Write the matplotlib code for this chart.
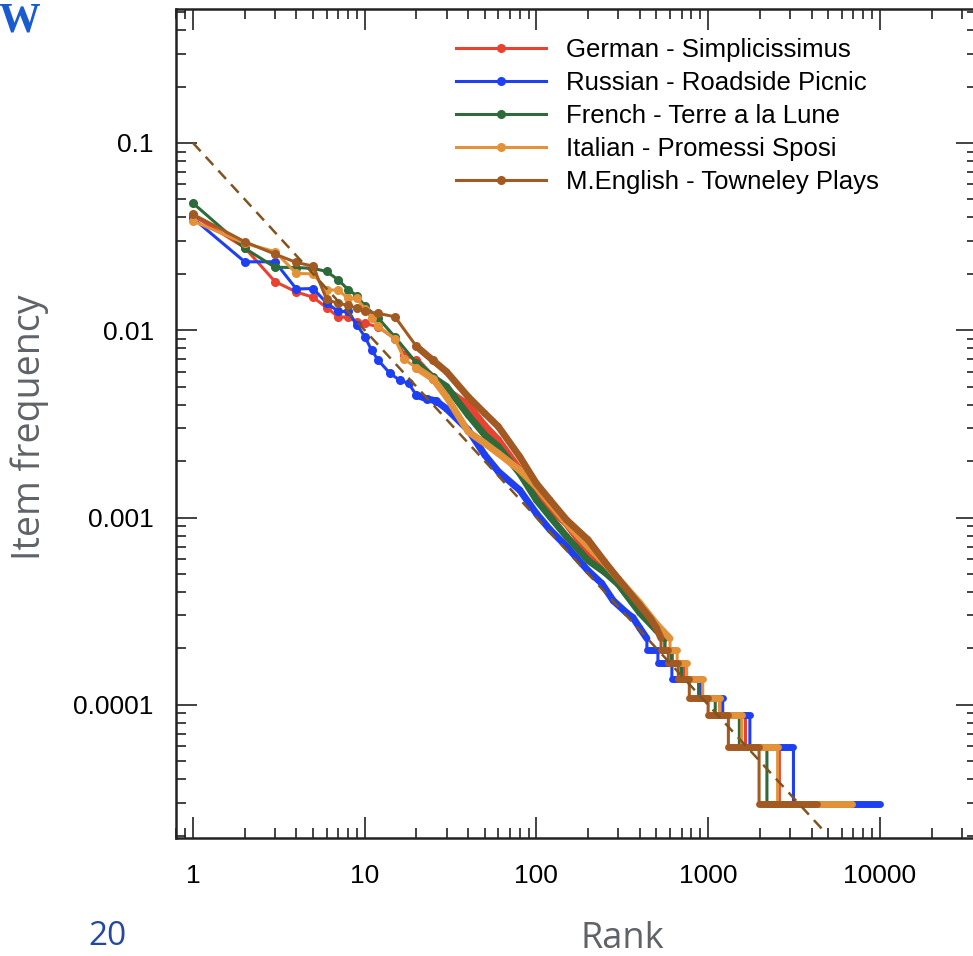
import numpy as np
import matplotlib
matplotlib.use("Agg")
import matplotlib.pyplot as plt
from matplotlib.collections import LineCollection

# rank / item-frequency values (tail = step corners)
german_rank = [1, 2, 3, 4, 5, 6, 7, 8, 9, 10, 12, 15, 17, 20, 25, 30, 40, 50, 60, 80, 100,
               120, 150, 200, 250, 300, 400, 500, 560, 560, 620, 620, 720, 720, 890, 890, 1170,
               1170, 1650, 1650, 2600, 2600, 5200]
german_freq = [0.041, 0.0276, 0.0182, 0.0160, 0.0150, 0.0132, 0.0118, 0.0117, 0.0111, 0.0109,
               0.0104, 0.0090, 0.0074, 0.0069, 0.0055, 0.0048, 0.0040, 0.0031, 0.0026, 0.0018,
               0.0013, 0.00112, 0.00092, 0.00065, 0.00055, 0.00046, 0.00033, 0.00026, 2.26e-4,
               1.97e-4, 1.97e-4, 1.68e-4, 1.68e-4, 1.37e-4, 1.37e-4, 1.09e-4, 1.09e-4, 8.85e-5,
               8.85e-5, 5.93e-5, 5.93e-5, 2.95e-5, 2.95e-5]

russian_rank = [1, 2, 3, 4, 5, 6, 7, 8, 9, 10, 11, 12, 14, 16, 18, 20, 23, 26, 30, 40, 50, 60,
                80, 100, 120, 150, 200, 240, 280, 335, 365, 400, 440, 440, 510, 510, 615, 615,
                910, 910, 1216, 1216, 1750, 1750, 3140, 3140, 10000]
russian_freq = [0.0396, 0.0232, 0.0232, 0.0166, 0.0167, 0.0140, 0.0126, 0.0126, 0.0107, 0.00925,
                0.0078, 0.0069, 0.0059, 0.0054, 0.0052, 0.0045, 0.0043, 0.0042, 0.0038, 0.00294,
                0.00216, 0.00176, 0.0014, 0.00105, 0.00086, 0.0007, 0.00052, 4.45e-4, 3.6e-4,
                3.1e-4, 2.92e-4, 2.57e-4, 2.26e-4, 1.97e-4, 1.97e-4, 1.68e-4, 1.68e-4, 1.37e-4,
                1.37e-4, 1.09e-4, 1.09e-4, 8.85e-5, 8.85e-5, 5.93e-5, 5.93e-5, 2.95e-5, 2.95e-5]

french_rank = [1, 2, 3, 4, 5, 6, 7, 8, 9, 10, 12, 15, 20, 25, 30, 40, 50, 60, 80, 100, 120, 150,
               200, 250, 300, 400, 500, 560, 560, 610, 610, 700, 700, 880, 880, 1100, 1100, 1520,
               1520, 2200, 2200, 3600]
french_freq = [0.0477, 0.0274, 0.0217, 0.0216, 0.0214, 0.0206, 0.0186, 0.0165, 0.0153, 0.0135,
               0.0116, 0.0092, 0.0067, 0.0056, 0.0050, 0.00353, 0.00276, 0.00239, 0.00172,
               0.00124, 0.00101, 0.00079, 0.00059, 0.00051, 0.00044, 0.00031, 0.00025, 2.26e-4,
               1.97e-4, 1.97e-4, 1.68e-4, 1.68e-4, 1.37e-4, 1.37e-4, 1.09e-4, 1.09e-4, 8.85e-5,
               8.85e-5, 5.93e-5, 5.93e-5, 2.95e-5, 2.95e-5]

italian_rank = [1, 2, 3, 4, 5, 6, 7, 8, 9, 10, 11, 12, 15, 17, 20, 25, 30, 40, 50, 60, 80, 100,
                120, 150, 200, 250, 300, 400, 500, 600, 600, 660, 660, 750, 750, 930, 930, 1170,
                1170, 1570, 1570, 2540, 2540, 6860]
italian_freq = [0.0383, 0.0291, 0.0263, 0.0201, 0.0200, 0.0164, 0.0164, 0.0148, 0.0148, 0.0130,
                0.0116, 0.0105, 0.0090, 0.0070, 0.0063, 0.0055, 0.0044, 0.00288, 0.00249, 0.0022,
                0.00179, 0.00146, 0.00119, 0.00093, 0.0007, 0.00057, 0.00047, 0.00035, 0.00027,
                2.26e-4, 1.97e-4, 1.97e-4, 1.68e-4, 1.68e-4, 1.37e-4, 1.37e-4, 1.09e-4, 1.09e-4,
                8.85e-5, 8.85e-5, 5.93e-5, 5.93e-5, 2.95e-5, 2.95e-5]

english_rank = [1, 2, 3, 4, 5, 6, 7, 8, 9, 10, 12, 15, 20, 25, 30, 40, 50, 60, 80, 100, 120, 150,
                200, 250, 300, 400, 460, 500, 532, 532, 586, 586, 670, 670, 777, 777, 1000, 1000,
                1312, 1312, 1980, 1980, 4290]
english_freq = [0.0416, 0.0297, 0.0255, 0.0230, 0.0220, 0.0146, 0.0139, 0.0136, 0.0131, 0.0126,
                0.0123, 0.0118, 0.0082, 0.0069, 0.0060, 0.00442, 0.0036, 0.00306, 0.00211,
                0.00152, 0.00124, 0.00097, 0.00076, 0.00058, 0.00047, 0.00034, 2.9e-4, 2.57e-4,
                2.26e-4, 1.97e-4, 1.97e-4, 1.68e-4, 1.68e-4, 1.37e-4, 1.37e-4, 1.09e-4, 1.09e-4,
                8.85e-5, 8.85e-5, 5.93e-5, 5.93e-5, 2.95e-5, 2.95e-5]

zipf_rank = [1, 4700]
zipf_freq = [0.1, 2.13e-5]

series = [
    ("German - Simplicissimus", german_rank, german_freq, "#EA4230"),
    ("Russian - Roadside Picnic", russian_rank, russian_freq, "#1F3FF2"),
    ("French - Terre a la Lune", french_rank, french_freq, "#2D6B3B"),
    ("Italian - Promessi Sposi", italian_rank, italian_freq, "#E3923A"),
    ("M.English - Towneley Plays", english_rank, english_freq, "#A35A22"),
]

plt.rcParams['font.family'] = ['Liberation Sans', 'DejaVu Sans']

fig = plt.figure(figsize=(9.73, 9.56), dpi=100)
ax = fig.add_axes([176 / 973, 1 - 838 / 956, 801 / 973, 829 / 956])
ax.set_xscale('log')
ax.set_yscale('log')

# Zipf reference line sits on top of the curves
ax.plot(zipf_rank, zipf_freq, color='#7F5420', lw=1.8, dashes=(4.5, 3.0), zorder=4)

for label, r, f, c in series:
    r = np.array(r, dtype=float)
    f = np.array(f, dtype=float)
    head = r <= 26
    ax.plot(r, f, color=c, lw=2.2, marker='o', ms=5.5, markevery=list(head),
            label=label, zorder=2)
    # dense markers in the original merge into a thick band: redraw those stretches thick
    segs = []
    for i in range(len(r) - 1):
        if r[i] >= 20 and r[i + 1] != r[i]:
            segs.append([(r[i], f[i]), (r[i + 1], f[i + 1])])
    lc = LineCollection(segs, colors=c, linewidths=5.0, capstyle='round', zorder=2)
    ax.add_collection(lc)

ax.set_xlim(0.796, 36800)
ax.set_ylim(1.945e-5, 0.519)

ax.set_xticks([1, 10, 100, 1000, 10000])
ax.set_xticklabels(['1', '10', '100', '1000', '10000'])
ax.set_yticks([0.0001, 0.001, 0.01, 0.1])
ax.set_yticklabels(['0.0001', '0.001', '0.01', '0.1'])

ax.tick_params(which='both', direction='in', top=True, right=True, width=1.2,
               colors='#222222', labelcolor='black', labelsize=19)
ax.tick_params(which='major', length=15)
ax.tick_params(which='minor', length=7.5)
ax.tick_params(axis='x', which='major', pad=19)
ax.tick_params(axis='y', which='major', pad=16)
for s in ax.spines.values():
    s.set_linewidth(1.8)
    s.set_color('#222222')

leg = ax.legend(loc='upper left', bbox_to_anchor=(0.3495, 0.9655), frameon=False,
                fontsize=18.5, handlelength=3.5, handletextpad=0.8, labelspacing=0.35,
                borderpad=0, borderaxespad=0)

fig.text(622 / 973, 1 - 939 / 956, 'Rank', ha='center', va='center', color='#5f6368',
         fontsize=26, family=['Open Sans', 'DejaVu Sans'])
fig.text(30 / 973, 1 - 427 / 956, 'Item frequency', ha='center', va='center', rotation=90,
         color='#5f6368', fontsize=27, family=['Open Sans', 'DejaVu Sans'])
fig.text(40 / 973, 1 - 3 / 956, 'W', ha='right', va='top', color='#1A5BD0',
         fontsize=30, fontweight='bold', family=['Liberation Serif', 'DejaVu Serif'])
fig.text(88 / 973, 1 - 953 / 956, '20', ha='left', va='bottom', color='#2448A0',
         fontsize=24, family=['Open Sans', 'DejaVu Sans'])

fig.savefig('out.png', dpi=100)
